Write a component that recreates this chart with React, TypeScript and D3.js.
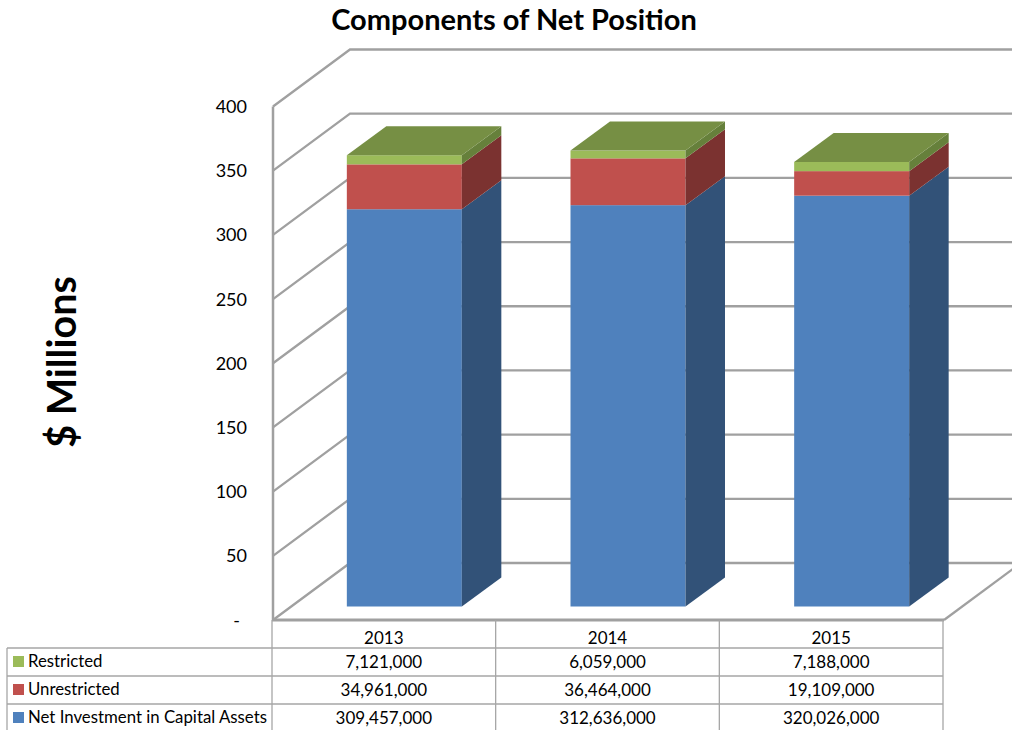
import React from "react";
import * as d3 from "d3";

const years = ["2013", "2014", "2015"];
const restricted = [7121000, 6059000, 7188000];
const unrestricted = [34961000, 36464000, 19109000];
const netInvestment = [309457000, 312636000, 320026000];
const yTicks = [0, 50, 100, 150, 200, 250, 300, 350, 400];
const seriesNames = ["Net Investment in Capital Assets", "Unrestricted", "Restricted"];
const seriesValues = [netInvestment, unrestricted, restricted];
const frontColors = ["#4f81bd", "#c0504d", "#9bbb59"];
const sideColors = ["#325278", "#7b3230", "#66803b"];
const topColor = "#768f44";
const legendRows = [2, 1, 0];

const FONT = "Lato, 'Open Sans', sans-serif";
const GRID = "#a0a0a0";
const TABLE = "#a6a6a6";

const y = d3.scaleLinear().domain([0, 400]).range([620, 106.5]);
const xCol = d3.scaleBand().domain(years).range([272, 943]);
const rowY = d3.scalePoint().domain(["head", "0", "1", "2"]).range([620, 704]);
const wallDx = 77, wallDy = -57;
const barOffX = 20.5, barOffY = -13.5;
const barDx = 39.5, barDy = -29;
const barW = 115;

const rows = years.map((yr, i) => ({ yr, a: netInvestment[i] / 1e6, b: unrestricted[i] / 1e6, c: restricted[i] / 1e6 }));
const stack = d3.stack<any>().keys(["a", "b", "c"]);
const stacked = stack(rows);
const fmt = d3.format(",");
const poly = (p: number[][]) => p.map((q) => q.join(",")).join(" ");

export default function App() {
  return (
    <svg width={1012} height={730} style={{ position: "absolute", left: 0, top: 0, background: "#fff" }} fontFamily={FONT}>
      <text x={514} y={30} textAnchor="middle" fontSize={29} fontWeight={700} fill="#000">Components of Net Position</text>
      <text transform="translate(76,362) rotate(-90)" textAnchor="middle" fontSize={39.5} fontWeight={700} fill="#000">$ Millions</text>

      {yTicks.map((t) => {
        const py = y(t);
        return (
          <g key={t}>
            <polyline points={poly([[273, py], [273 + wallDx, py + wallDy], [1012, py + wallDy]])} fill="none" stroke={GRID} strokeWidth={2.3} />
            <text x={t === 0 ? 240 : 247} y={py + 6.5} textAnchor="end" fontSize={18} fill="#000">{t === 0 ? "-" : t}</text>
          </g>
        );
      })}
      <line x1={273} y1={y(400)} x2={273} y2={620} stroke={GRID} strokeWidth={2.5} />
      <line x1={944} y1={620} x2={944 + wallDx} y2={620 + wallDy} stroke={GRID} strokeWidth={2.3} />

      {years.map((yr, i) => {
        const x0 = xCol(yr)! + xCol.bandwidth() / 2 + barOffX - barW / 2;
        const x1 = x0 + barW;
        return (
          <g key={yr}>
            {stacked.map((s, k) => {
              const top = y(s[i][1]) + barOffY;
              const bot = y(s[i][0]) + barOffY;
              return (
                <g key={k}>
                  <rect x={x0} y={top} width={barW} height={bot - top} fill={frontColors[k]} />
                  <polygon points={poly([[x1, top], [x1 + barDx, top + barDy], [x1 + barDx, bot + barDy], [x1, bot]])} fill={sideColors[k]} />
                </g>
              );
            })}
            {(() => {
              const top = y(stacked[2][i][1]) + barOffY;
              return <polygon points={poly([[x0, top], [x0 + barDx, top + barDy], [x1 + barDx, top + barDy], [x1, top]])} fill={topColor} />;
            })()}
          </g>
        );
      })}

      <line x1={272} y1={620} x2={944} y2={620} stroke={GRID} strokeWidth={3} />
      {["0", "1", "2"].map((r) => (
        <line key={r} x1={7} x2={943} y1={rowY(r)} y2={rowY(r)} stroke={TABLE} strokeWidth={1.3} />
      ))}
      {[...years.map((yr) => xCol(yr)!), 943].map((x) => (
        <line key={x} x1={x} x2={x} y1={620} y2={730} stroke={TABLE} strokeWidth={1.3} />
      ))}
      <line x1={7} x2={7} y1={rowY("0")} y2={730} stroke={TABLE} strokeWidth={1.3} />

      {years.map((yr) => (
        <text key={yr} x={xCol(yr)! + xCol.bandwidth() / 2} y={644} textAnchor="middle" fontSize={17} fill="#000">{yr}</text>
      ))}
      {legendRows.map((s, r) => {
        const top = rowY(String(r))!;
        return (
          <g key={s}>
            <rect x={13} y={top + 8} width={11} height={11} fill={frontColors[s]} />
            <text x={28} y={top + 19} fontSize={16.8} fill="#000">{seriesNames[s]}</text>
            {years.map((yr, i) => (
              <text key={yr} x={xCol(yr)! + xCol.bandwidth() / 2} y={top + 20} textAnchor="middle" fontSize={17} fill="#000">{fmt(seriesValues[s][i])}</text>
            ))}
          </g>
        );
      })}
    </svg>
  );
}
